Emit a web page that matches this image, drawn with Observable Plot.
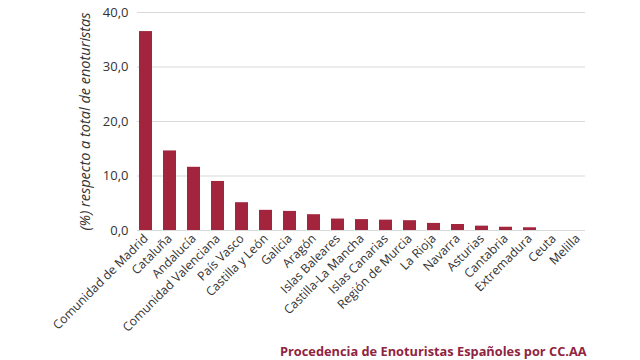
<!DOCTYPE html>
<html>
<head>
<meta charset="utf-8">
<script src="https://cdn.jsdelivr.net/npm/d3@7"></script>
<script src="https://cdn.jsdelivr.net/npm/@observablehq/plot@0.6"></script>
<style>
  html, body { margin: 0; padding: 0; background: #fff; }
  #wrap { position: relative; width: 640px; height: 360px; font-family: "Open Sans", Lato, sans-serif; }
  #caption { position: absolute; left: 280px; top: 342px; font-size: 12.8px; font-weight: 700; color: #8e2440; white-space: nowrap; }
</style>
</head>
<body>
<div id="wrap"><div id="chart"></div><div id="caption">Procedencia de Enoturistas Españoles por CC.AA</div></div>
<script>
const regions = ["Comunidad de Madrid","Cataluña","Andalucía","Comunidad Valenciana","País Vasco","Castilla y León","Galicia","Aragón","Islas Baleares","Castilla-La Mancha","Islas Canarias","Región de Murcia","La Rioja","Navarra","Asturias","Cantabria","Extremadura","Ceuta","Melilla"];
const shares = [36.5, 14.6, 11.6, 9.0, 5.1, 3.7, 3.5, 2.9, 2.1, 2.0, 1.9, 1.8, 1.3, 1.1, 0.8, 0.6, 0.5, 0.0, 0.0];
const yTicks = [0, 10, 20, 30, 40];

const data = regions.map((r, i) => ({region: r, value: shares[i]}));
const fmt = v => v.toFixed(1).replace(".", ",");

const plot = Plot.plot({
  width: 640,
  height: 340,
  marginLeft: 137,
  marginRight: 55,
  marginTop: 12,
  marginBottom: 110,
  style: {fontFamily: "'Open Sans', Lato, sans-serif", fontSize: "12px", color: "#333", background: "#fff"},
  x: {domain: regions, padding: 0.46, paddingOuter: 0.03, label: null},
  y: {domain: [0, 40], label: null},
  marks: [
    Plot.gridY(yTicks, {stroke: "#d9d9d9", strokeOpacity: 1}),
    Plot.barY(data, {x: "region", y: "value", fill: "#a2253d"}),
    Plot.axisY(yTicks, {tickSize: 0, tickPadding: 9, tickFormat: fmt, fontSize: 13, fill: "#333", label: null}),
    Plot.axisX({tickSize: 0, tickRotate: -45, tickPadding: 6, fontSize: 12.3, fill: "#333", label: null}),
    Plot.text(["(%) respecto a total de enoturistas"], {frameAnchor: "left", dx: -52, rotate: -90, textAnchor: "middle", fontSize: 14.5, fontStyle: "italic", fill: "#333"})
  ]
});
document.getElementById("chart").appendChild(plot);
</script>
</body>
</html>
